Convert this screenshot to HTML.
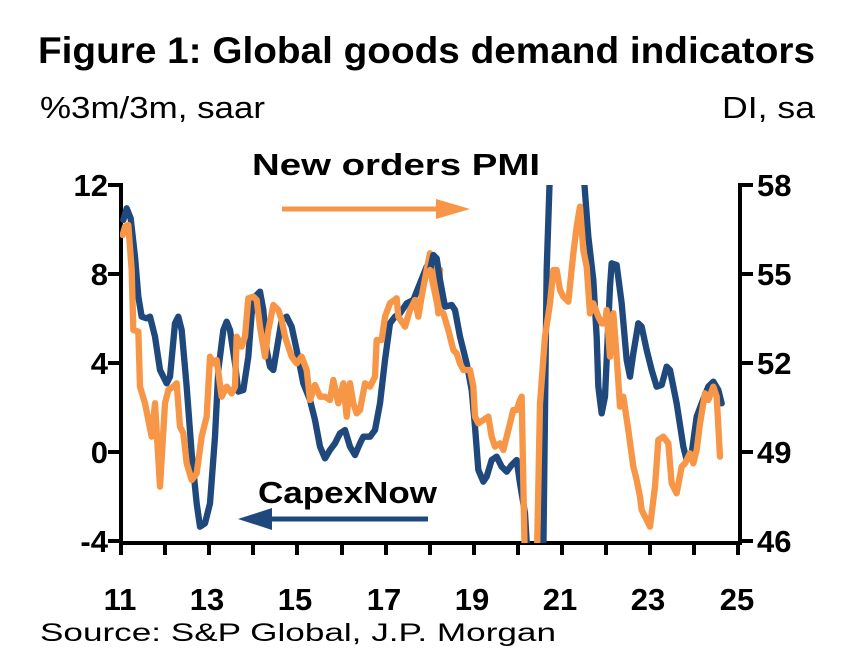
<!DOCTYPE html>
<html><head><meta charset="utf-8"><style>
html,body{margin:0;padding:0;background:#fff;}
svg{display:block;font-family:"Liberation Sans Narrow","Liberation Sans",Arial,sans-serif;}
</style></head><body>
<svg width="852" height="664" viewBox="0 0 852 664" xmlns="http://www.w3.org/2000/svg">
<defs><clipPath id="c1"><rect x="30" y="45" width="2000" height="1074"/></clipPath>
<clipPath id="c2"><rect x="-1000" y="45" width="2000" height="1074"/></clipPath></defs>
<text x="38" y="63" font-size="37" font-weight="bold" textLength="777" lengthAdjust="spacingAndGlyphs">Figure 1: Global goods demand indicators</text>
<text x="40" y="118" font-size="31" textLength="225" lengthAdjust="spacingAndGlyphs">%3m/3m, saar</text>
<text x="722" y="118" font-size="31" textLength="93" lengthAdjust="spacingAndGlyphs">DI, sa</text>
<g font-size="31" font-weight="bold">
<text x="108" y="196" text-anchor="end">12</text>
<text x="108" y="285" text-anchor="end">8</text>
<text x="108" y="374" text-anchor="end">4</text>
<text x="108" y="463" text-anchor="end">0</text>
<text x="108" y="552" text-anchor="end">-4</text>
<text x="757" y="196">58</text>
<text x="757" y="285">55</text>
<text x="757" y="374">52</text>
<text x="757" y="463">49</text>
<text x="757" y="552">46</text>
<g text-anchor="middle">
<text x="120" y="610">11</text><text x="207" y="610">13</text><text x="295" y="610">15</text><text x="384" y="610">17</text><text x="472" y="610">19</text><text x="560" y="610">21</text><text x="648" y="610">23</text><text x="737" y="610">25</text>
</g>
<text x="252" y="175" textLength="288" lengthAdjust="spacingAndGlyphs">New orders PMI</text>
<text x="258" y="503" textLength="179" lengthAdjust="spacingAndGlyphs">CapexNow</text>
</g>
<text x="40" y="641" font-size="25" textLength="516" lengthAdjust="spacingAndGlyphs">Source: S&amp;P Global, J.P. Morgan</text>
<g stroke="#000" stroke-width="4" fill="none">
<path d="M121,183V543H740V183"/>
<path d="M108,185H121M108,274H121M108,363H121M108,452H121M108,541H121"/>
<path d="M740,185H753M740,274H753M740,363H753M740,452H753M740,541H753"/>
<path d="M121,543V555M165,543V555M209,543V555M253,543V555M297,543V555M342,543V555M386,543V555M430,543V555M474,543V555M518,543V555M562,543V555M606,543V555M650,543V555M694,543V555M738,543V555"/>
</g>
<g fill="none" stroke-width="19" stroke-linejoin="round" stroke-linecap="round">
<g transform="translate(110,170) scale(0.33333)" clip-path="url(#c1)">
<polyline stroke="#1f497d" points="40,150 50,115 62,145 75,260 85,380 95,440 110,445 120,440 135,500 150,600 170,640 180,620 195,460 205,440 215,480 230,650 245,850 260,1000 270,1070 285,1060 300,1000 315,800 325,600 340,480 350,455 360,480 375,580 385,665 400,660 415,560 425,430 435,380 450,365 460,420 470,540 480,590 490,600 500,540 515,450 530,440 545,470 560,540 580,640 600,690 615,750 630,830 645,865 660,840 675,820 690,790 705,780 720,830 735,855 750,820 760,800 780,800 795,780 810,700 825,570 840,460 855,440 870,430 890,400 910,390 930,340 950,290 965,280 980,320 990,300"/>
<polyline stroke="#f79646" points="38,195 45,170 55,165 65,300 70,480 85,485 90,650 105,700 125,800 135,700 150,950 165,700 175,660 190,650 200,640 210,770 220,790 230,880 245,930 260,910 275,800 290,740 300,560 310,580 320,570 335,680 350,650 365,670 375,650 380,500 395,530 405,500 415,385 430,380 440,390 450,470 465,560 475,480 490,405 505,420 515,450 525,500 545,560 560,580 575,560 590,600 600,690 615,645 630,680 645,680 660,690 670,630 685,700 700,640 710,740 720,640 730,700 740,730 750,720 765,640 780,650 795,620 800,510 815,510 825,440 840,400 860,385 865,440 885,470 900,420 915,390 925,440 935,380 950,300 960,250 975,300 985,430 990,300"/>
</g>
<g transform="translate(430,170) scale(0.33333)" clip-path="url(#c2)">
<polyline stroke="#1f497d" points="0,300 10,255 20,265 30,330 45,410 65,405 75,420 90,500 110,580 125,660 135,770 145,900 160,935 170,920 185,870 200,860 215,890 230,905 245,885 260,870 270,940 285,1030 295,1200 320,1250 340,1150 350,300 360,0 460,0 475,200 490,330 500,500 505,650 515,730 525,680 540,350 545,280 560,285 575,400 590,570 600,620 610,550 625,460 635,470 650,540 665,600 680,650 695,645 710,590 720,600 740,700 760,830 770,870 785,850 800,740 815,700 835,650 850,635 865,660 875,700"/>
<polyline stroke="#f79646" points="0,300 15,370 25,420 40,430 55,480 70,540 80,550 90,580 100,600 120,600 130,650 135,740 145,760 160,750 175,740 185,800 195,830 210,820 220,840 235,780 250,720 260,720 270,690 275,680 285,1200 320,1200 330,700 345,500 360,400 370,300 380,300 390,360 400,380 415,395 430,250 440,170 450,110 460,240 470,290 480,430 490,400 505,440 515,460 525,460 530,420 540,560 550,430 560,560 570,710 580,680 595,780 610,890 620,930 630,980 635,1020 650,1050 660,1070 675,950 685,810 700,800 715,820 725,940 740,970 755,890 765,880 780,850 790,880 800,840 810,760 825,670 835,690 850,650 860,680 870,860"/>
</g>
</g>
<line x1="282" y1="209" x2="440" y2="209" stroke="#f79646" stroke-width="5"/>
<polygon points="436,199 470,209 436,219" fill="#f79646"/>
<line x1="428" y1="519" x2="268" y2="519" stroke="#1f497d" stroke-width="5"/>
<polygon points="272,508 238,519 272,530" fill="#1f497d"/>
</svg>
</body></html>
